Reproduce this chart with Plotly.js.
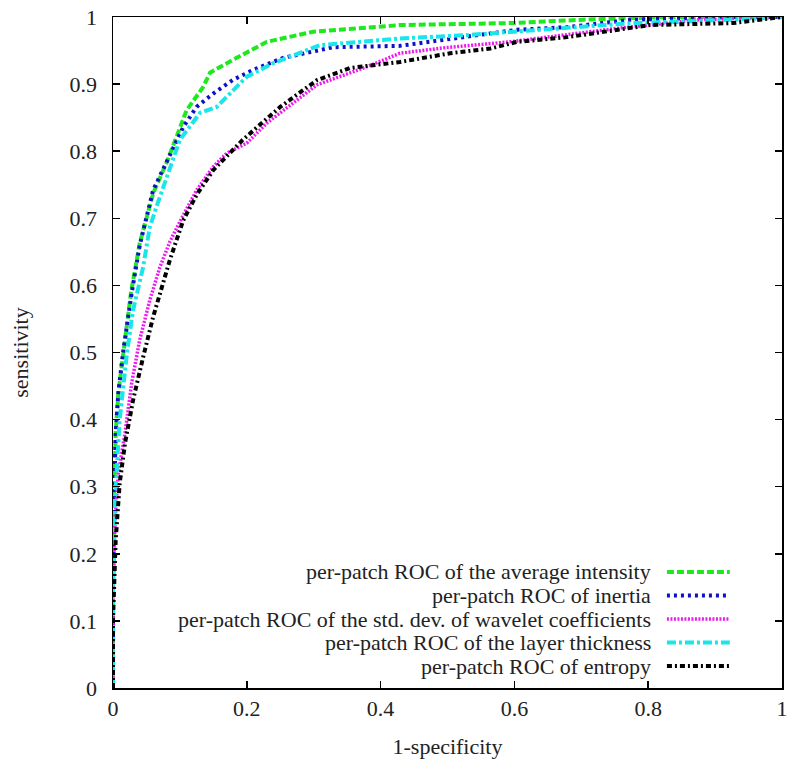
<!DOCTYPE html>
<html>
<head>
<meta charset="utf-8">
<script src="https://cdn.plot.ly/plotly-3.0.1.min.js"></script>
<style>html,body{margin:0;padding:0;background:#fff;}#chart{width:800px;height:769px;}</style>
</head>
<body>
<div id="chart"></div>
<script>
// Series names (legend order)
const seriesNames = [
  "per-patch ROC of the average intensity",
  "per-patch ROC of inertia",
  "per-patch ROC of the std. dev. of wavelet coefficients",
  "per-patch ROC of the layer thickness",
  "per-patch ROC of entropy"
];

// average intensity (green)
const avgX = [0, 0, 0.002, 0.004, 0.008, 0.015, 0.027, 0.040, 0.060, 0.081, 0.097, 0.110, 0.135, 0.145, 0.179, 0.230, 0.299, 0.429, 0.598, 0.703, 0.828, 1];
const avgY = [0, 0.15, 0.30, 0.38, 0.44, 0.50, 0.59, 0.663, 0.737, 0.785, 0.827, 0.861, 0.896, 0.917, 0.936, 0.963, 0.978, 0.988, 0.991, 0.996, 1.0, 1];

// inertia (blue)
const inertiaX = [0, 0, 0.002, 0.004, 0.008, 0.015, 0.028, 0.040, 0.060, 0.081, 0.105, 0.125, 0.150, 0.179, 0.209, 0.254, 0.329, 0.429, 0.529, 0.604, 0.679, 0.777, 0.927, 1];
const inertiaY = [0, 0.15, 0.30, 0.38, 0.44, 0.50, 0.589, 0.660, 0.742, 0.787, 0.836, 0.866, 0.886, 0.906, 0.921, 0.939, 0.955, 0.957, 0.970, 0.981, 0.985, 0.996, 1.0, 1];

// std. dev. of wavelet coefficients (magenta)
const waveletX = [0, 0, 0.003, 0.008, 0.018, 0.028, 0.040, 0.055, 0.070, 0.085, 0.100, 0.125, 0.150, 0.170, 0.200, 0.230, 0.305, 0.380, 0.429, 0.494, 0.593, 0.673, 0.753, 0.877, 1];
const waveletY = [0, 0.12, 0.25, 0.32, 0.38, 0.455, 0.519, 0.578, 0.627, 0.665, 0.695, 0.742, 0.777, 0.797, 0.812, 0.842, 0.899, 0.926, 0.946, 0.954, 0.963, 0.973, 0.983, 0.996, 1];

// layer thickness (cyan)
const thickX = [0, 0, 0.003, 0.006, 0.010, 0.021, 0.030, 0.045, 0.055, 0.067, 0.081, 0.100, 0.130, 0.155, 0.200, 0.239, 0.309, 0.429, 0.529, 0.679, 0.777, 0.927, 1];
const thickY = [0, 0.15, 0.28, 0.34, 0.40, 0.50, 0.563, 0.627, 0.687, 0.723, 0.762, 0.817, 0.857, 0.866, 0.911, 0.931, 0.958, 0.968, 0.973, 0.984, 0.991, 0.996, 1];

// entropy (black)
const entropyX = [0, 0, 0.004, 0.010, 0.018, 0.030, 0.045, 0.060, 0.085, 0.105, 0.125, 0.150, 0.194, 0.250, 0.305, 0.354, 0.429, 0.504, 0.564, 0.604, 0.679, 0.753, 0.803, 0.927, 1];
const entropyY = [0, 0.10, 0.22, 0.305, 0.365, 0.429, 0.493, 0.553, 0.638, 0.697, 0.735, 0.772, 0.817, 0.866, 0.906, 0.924, 0.933, 0.946, 0.953, 0.963, 0.970, 0.981, 0.988, 0.991, 1];

const xTickVals = [0, 0.2, 0.4, 0.6, 0.8, 1];
const xTickText = ["0", "0.2", "0.4", "0.6", "0.8", "1"];
const yTickVals = [0, 0.1, 0.2, 0.3, 0.4, 0.5, 0.6, 0.7, 0.8, 0.9, 1];
const yTickText = ["0", "0.1", "0.2", "0.3", "0.4", "0.5", "0.6", "0.7", "0.8", "0.9", "1"];

const styles = [
  {color: "#1ee81e", dash: "7px,3px", width: 4},
  {color: "#1010c8", dash: "3px,4px", width: 4},
  {color: "#f01af0", dash: "2px,1.5px", width: 3.5},
  {color: "#18e6ea", dash: "9px,3px,3px,3px", width: 4},
  {color: "#000000", dash: "5px,3px,2px,3px", width: 4}
];

const xs = [avgX, inertiaX, waveletX, thickX, entropyX];
const ys = [avgY, inertiaY, waveletY, thickY, entropyY];

const FONT = "Liberation Serif";

const traces = xs.map((x, i) => ({
  x: x, y: ys[i], type: "scatter", mode: "lines", name: seriesNames[i],
  line: {color: styles[i].color, dash: styles[i].dash, width: styles[i].width},
  showlegend: false
}));

// custom gnuplot-style legend (text right-aligned, sample on the right)
const annotations = [];
const shapes = [];
const legTop = 0.1729, legStep = 0.03505;
seriesNames.forEach((name, i) => {
  const yy = legTop - i * legStep;
  annotations.push({
    xref: "paper", yref: "paper", x: 0.8057, y: yy, xanchor: "right", yanchor: "middle",
    text: name, showarrow: false, borderpad: 0, font: {family: FONT, size: 22, color: "#222"}
  });
  shapes.push({
    type: "line", xref: "paper", yref: "paper", x0: 0.828, x1: 0.922, y0: yy, y1: yy,
    line: {color: styles[i].color, dash: styles[i].dash, width: styles[i].width}
  });
});

const axisCommon = {
  range: [0, 1], showgrid: false, zeroline: false, showline: true, linecolor: "#000", linewidth: 1.5,
  ticks: "inside", ticklen: 7, tickwidth: 1.5, tickcolor: "#000", mirror: "ticks",
  tickfont: {family: FONT, size: 22, color: "#222"}, tickmode: "array", fixedrange: true
};

const layout = {
  width: 800, height: 769,
  margin: {l: 113, r: 18, t: 17, b: 81},
  paper_bgcolor: "#fff", plot_bgcolor: "#fff",
  showlegend: false,
  font: {family: FONT},
  xaxis: Object.assign({}, axisCommon, {
    tickvals: xTickVals, ticktext: xTickText, ticklabelstandoff: 0,
    title: {text: "1-specificity", font: {family: FONT, size: 22, color: "#222"}, standoff: 18}
  }),
  yaxis: Object.assign({}, axisCommon, {
    tickvals: yTickVals, ticktext: yTickText, ticklabelstandoff: 10,
    title: {text: "sensitivity", font: {family: FONT, size: 22, color: "#222"}, standoff: 35}
  }),
  annotations: annotations,
  shapes: shapes
};

Plotly.newPlot("chart", traces, layout, {displayModeBar: false, staticPlot: true});
</script>
</body>
</html>
